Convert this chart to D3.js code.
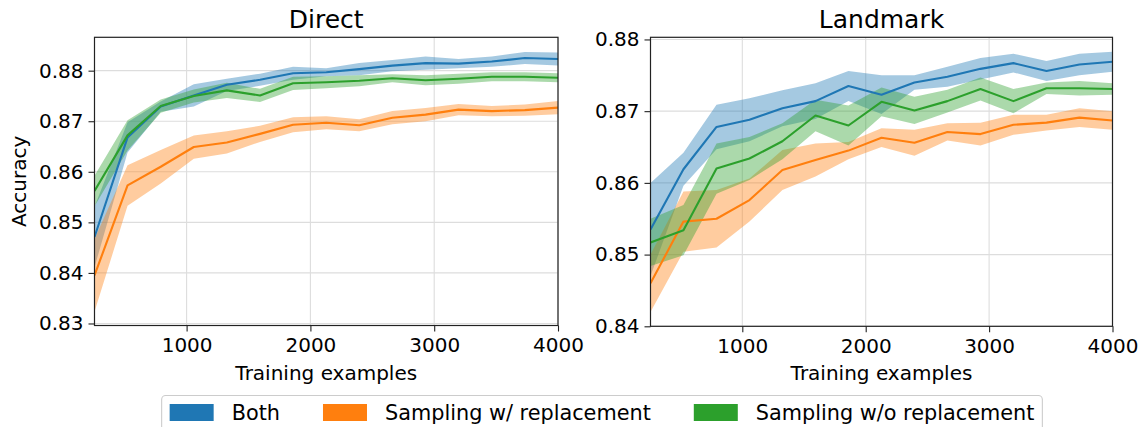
<!DOCTYPE html>
<html>
<head>
<meta charset="utf-8">
<script src="https://cdn.jsdelivr.net/npm/d3@7"></script>
<style>
  html, body { margin: 0; padding: 0; background: #fff; }
  text { font-family: "DejaVu Sans", sans-serif; fill: #000; }
</style>
</head>
<body>
<div id="chart"></div>
<script>
// training set sizes (x)
const sizes = [256, 523, 791, 1058, 1325, 1593, 1860, 2128, 2395, 2662, 2930, 3197, 3465, 3732, 4000];

// Direct panel: mean accuracy and half-width of the shaded band
const directBoth = [0.8471, 0.8668, 0.8729, 0.8751, 0.8772, 0.8782, 0.8795, 0.8797, 0.8803, 0.8810, 0.8815, 0.8814, 0.8818, 0.8825, 0.8823];
const directBothErr = [0.0060, 0.0030, 0.0010, 0.0022, 0.0012, 0.0012, 0.0013, 0.0008, 0.0012, 0.0011, 0.0013, 0.0009, 0.0010, 0.0012, 0.0013];
const directWith = [0.8395, 0.8573, 0.8610, 0.8649, 0.8658, 0.8675, 0.8693, 0.8697, 0.8692, 0.8707, 0.8713, 0.8723, 0.8720, 0.8722, 0.8727];
const directWithErr = [0.0072, 0.0040, 0.0033, 0.0023, 0.0022, 0.0016, 0.0015, 0.0013, 0.0012, 0.0013, 0.0013, 0.0011, 0.0010, 0.0011, 0.0013];
const directWithout = [0.8562, 0.8672, 0.8730, 0.8750, 0.8761, 0.8751, 0.8775, 0.8777, 0.8780, 0.8785, 0.8781, 0.8784, 0.8788, 0.8788, 0.8786];
const directWithoutErr = [0.0030, 0.0030, 0.0013, 0.0013, 0.0015, 0.0013, 0.0013, 0.0012, 0.0011, 0.0008, 0.0010, 0.0010, 0.0009, 0.0009, 0.0009];

// Landmark panel
const landmarkBoth = [0.8535, 0.8619, 0.8678, 0.8688, 0.8704, 0.8714, 0.8735, 0.8723, 0.8740, 0.8748, 0.8759, 0.8767, 0.8756, 0.8765, 0.8769];
const landmarkBothErr = [0.0065, 0.0023, 0.0031, 0.0030, 0.0025, 0.0025, 0.0021, 0.0027, 0.0010, 0.0014, 0.0015, 0.0013, 0.0014, 0.0015, 0.0014];
const landmarkWith = [0.8460, 0.8546, 0.8550, 0.8576, 0.8618, 0.8632, 0.8645, 0.8663, 0.8656, 0.8671, 0.8668, 0.8681, 0.8684, 0.8691, 0.8687];
const landmarkWithErr = [0.0040, 0.0042, 0.0040, 0.0030, 0.0028, 0.0023, 0.0012, 0.0013, 0.0018, 0.0012, 0.0016, 0.0014, 0.0011, 0.0013, 0.0013];
const landmarkWithout = [0.8517, 0.8534, 0.8620, 0.8634, 0.8658, 0.8694, 0.8680, 0.8713, 0.8701, 0.8714, 0.8731, 0.8714, 0.8732, 0.8732, 0.8731];
const landmarkWithoutErr = [0.0033, 0.0035, 0.0035, 0.0030, 0.0025, 0.0022, 0.0028, 0.0020, 0.0019, 0.0016, 0.0016, 0.0017, 0.0008, 0.0010, 0.0008];

const seriesNames = ['Both', 'Sampling w/ replacement', 'Sampling w/o replacement'];
const seriesColors = ['#1f77b4', '#ff7f0e', '#2ca02c'];

const xTicks = [1000, 2000, 3000, 4000];
const directYTicks = [0.83, 0.84, 0.85, 0.86, 0.87, 0.88];
const landmarkYTicks = [0.84, 0.85, 0.86, 0.87, 0.88];

const W = 1143, H = 427;
const svg = d3.select('#chart').append('svg')
  .attr('width', W).attr('height', H)
  .style('display', 'block');
svg.append('rect').attr('width', W).attr('height', H).attr('fill', '#fff');

function drawPanel(opts) {
  const { id, title, left, right, top, bottom, yDomain, yTicks, series, yLabel } = opts;
  const x = d3.scaleLinear().domain([256, 4000]).range([left, right]);
  const y = d3.scaleLinear().domain(yDomain).range([bottom, top]);

  svg.append('clipPath').attr('id', 'clip-' + id)
    .append('rect').attr('x', left).attr('y', top)
    .attr('width', right - left).attr('height', bottom - top);

  const g = svg.append('g');

  // grid
  const grid = g.append('g');
  grid.selectAll('line.gx').data(xTicks).join('line')
    .attr('x1', d => x(d)).attr('x2', d => x(d))
    .attr('y1', top).attr('y2', bottom)
    .attr('stroke', '#dddddd').attr('stroke-width', 1.1);
  grid.selectAll('line.gy').data(yTicks).join('line')
    .attr('x1', left).attr('x2', right)
    .attr('y1', d => y(d)).attr('y2', d => y(d))
    .attr('stroke', '#dddddd').attr('stroke-width', 1.1);

  const plot = g.append('g').attr('clip-path', `url(#clip-${id})`);

  const area = d3.area()
    .x((d, i) => x(sizes[i]))
    .y0(d => y(d[0] - d[1]))
    .y1(d => y(d[0] + d[1]));
  const line = d3.line()
    .x((d, i) => x(sizes[i]))
    .y(d => y(d));

  series.forEach((s, k) => {
    plot.append('path')
      .datum(s.mean.map((m, i) => [m, s.err[i]]))
      .attr('d', area)
      .attr('fill', seriesColors[k]).attr('fill-opacity', 0.4)
      .attr('stroke', 'none');
  });
  series.forEach((s, k) => {
    plot.append('path')
      .datum(s.mean)
      .attr('d', line)
      .attr('fill', 'none')
      .attr('stroke', seriesColors[k]).attr('stroke-width', 2.1)
      .attr('stroke-linejoin', 'round');
  });

  // axes
  const xAxis = d3.axisBottom(x).tickValues(xTicks).tickSize(6).tickPadding(5).tickFormat(d3.format('d'));
  const yAxis = d3.axisLeft(y).tickValues(yTicks).tickSize(6).tickPadding(5).tickFormat(d3.format('.2f'));

  const gx = g.append('g').attr('transform', `translate(0,${bottom})`).call(xAxis);
  const gy = g.append('g').attr('transform', `translate(${left},0)`).call(yAxis);
  [gx, gy].forEach(a => {
    a.select('.domain').remove();
    a.selectAll('.tick line').attr('stroke', '#222').attr('stroke-width', 1.1);
    a.selectAll('.tick text')
      .attr('font-family', '"DejaVu Sans", sans-serif')
      .attr('font-size', '20px').attr('fill', '#000');
  });
  gx.selectAll('.tick text').attr('dy', '0.78em');

  // frame
  g.append('rect')
    .attr('x', left).attr('y', top)
    .attr('width', right - left).attr('height', bottom - top)
    .attr('fill', 'none').attr('stroke', '#222').attr('stroke-width', 1.2);

  // title + labels
  g.append('text')
    .attr('x', (left + right) / 2).attr('y', 28)
    .attr('text-anchor', 'middle').attr('font-size', '25px')
    .text(title);
  g.append('text')
    .attr('x', (left + right) / 2).attr('y', 380)
    .attr('text-anchor', 'middle').attr('font-size', '20px')
    .text('Training examples');
  if (yLabel) {
    g.append('text')
      .attr('transform', `translate(26,${(top + bottom) / 2}) rotate(-90)`)
      .attr('text-anchor', 'middle').attr('font-size', '20px')
      .text(yLabel);
  }
}

drawPanel({
  id: 'direct', title: 'Direct', left: 94.5, right: 558, top: 37.3, bottom: 325.5,
  yDomain: [0.8296, 0.8866], yTicks: directYTicks, yLabel: 'Accuracy',
  series: [
    { mean: directBoth, err: directBothErr },
    { mean: directWith, err: directWithErr },
    { mean: directWithout, err: directWithoutErr }
  ]
});

drawPanel({
  id: 'landmark', title: 'Landmark', left: 650.5, right: 1112.5, top: 37.3, bottom: 326.3,
  yDomain: [0.84, 0.8803], yTicks: landmarkYTicks,
  series: [
    { mean: landmarkBoth, err: landmarkBothErr },
    { mean: landmarkWith, err: landmarkWithErr },
    { mean: landmarkWithout, err: landmarkWithoutErr }
  ]
});

// legend
const legend = svg.append('g');
const legendBox = legend.append('rect')
  .attr('y', 395.5).attr('height', 45).attr('rx', 4)
  .attr('fill', '#fff').attr('stroke', '#cccccc').attr('stroke-width', 1.1);

const patchW = 44, patchH = 17, textGap = 18, entryGap = 43;
const items = legend.selectAll('g.item').data(seriesNames).join('g');
items.append('rect')
  .attr('width', patchW).attr('height', patchH).attr('y', 404)
  .attr('fill', (d, i) => seriesColors[i]);
items.append('text')
  .attr('x', patchW + textGap).attr('y', 420)
  .attr('font-size', '20.8px')
  .text(d => d);

let widths = [];
items.each(function () { widths.push(patchW + textGap + this.querySelector('text').getComputedTextLength()); });
const total = d3.sum(widths) + entryGap * (widths.length - 1);
let cx = 602 - total / 2;
items.each(function (d, i) {
  d3.select(this).attr('transform', `translate(${cx},0)`);
  cx += widths[i] + entryGap;
});
legendBox.attr('x', 602 - total / 2 - 8).attr('width', total + 16);
</script>
</body>
</html>
